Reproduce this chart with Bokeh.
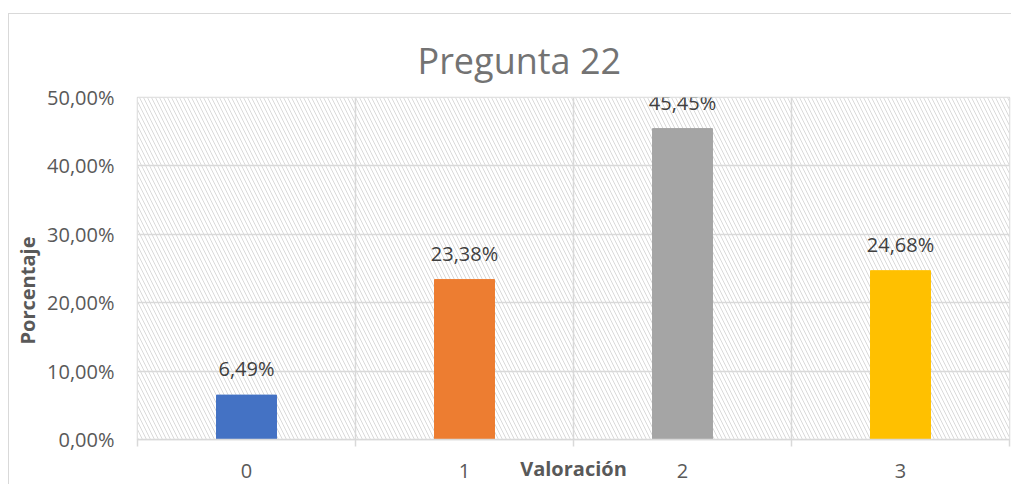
from bokeh.plotting import figure
from bokeh.models import (ColumnDataSource, Range1d, FixedTicker, LabelSet, Title,
                          BoxAnnotation)
from bokeh.embed import file_html
from bokeh.resources import INLINE
from bokeh.core.properties import value

# ---- data ----
categories = [0, 1, 2, 3]
category_labels = ["0", "1", "2", "3"]
percentages = [6.49, 23.38, 45.45, 24.68]
bar_colors = ["#4472C4", "#ED7D31", "#A5A5A5", "#FFC000"]
y_ticks = [0, 10, 20, 30, 40, 50]
y_tick_labels = ["0,00%", "10,00%", "20,00%", "30,00%", "40,00%", "50,00%"]
title_text = "Pregunta 22"
x_title = "Valoración"
y_title = "Porcentaje"

FONT = "Open Sans"
GRID = "#d9d9d9"

labels_text = [("%.2f" % v).replace(".", ",") + "%" for v in percentages]
src = ColumnDataSource(dict(x=categories, top=percentages, color=bar_colors, label=labels_text))

p = figure(width=1011, height=484, x_range=Range1d(-0.5, 3.5), y_range=Range1d(0, 50),
           output_backend="svg", toolbar_location=None,
           min_border_left=137, min_border_right=2, min_border_top=97, min_border_bottom=44)
p.background_fill_color = "white"
p.border_fill_color = None
p.outline_line_color = GRID
p.outline_line_width = 1.5
# outer chart border (top & left edges visible, right/bottom cropped in the reference)
p.styles = {
    "background-color": "white",
    "background-image": ("linear-gradient(#d9d9d9,#d9d9d9), "
                         "linear-gradient(#d9d9d9,#d9d9d9)"),
    "background-position": "8px 13px, 8px 13px",
    "background-size": "calc(100% - 8px) 1px, 1px calc(100% - 13px)",
    "background-repeat": "no-repeat, no-repeat",
    "vertical-align": "top",
    "margin-bottom": "-8px",
}

# title (centered on the full chart area, left of the plot-area centre)
p.title.text = title_text
p.title.align = "left"
p.title.offset = 280
p.title.standoff = 25
p.title.text_font = FONT
p.title.text_font_size = "36px"
p.title.text_font_style = "normal"
p.title.text_color = "#737373"

# hatched plot area
hatch = BoxAnnotation(fill_color="white", fill_alpha=1.0, line_color=None,
                      hatch_pattern="\\", hatch_color="#dadada", hatch_scale=8,
                      hatch_weight=1.0, level="image")
p.add_layout(hatch)

p.vbar(x="x", top="top", width=0.275, color="color", source=src)

# grids
p.ygrid.ticker = FixedTicker(ticks=y_ticks)
p.ygrid.grid_line_color = GRID
p.ygrid.grid_line_width = 1.5
p.xgrid.ticker = FixedTicker(ticks=[c - 0.5 for c in categories] + [categories[-1] + 0.5])
p.xgrid.grid_line_color = GRID
p.xgrid.grid_line_width = 1.5

# x axis
xa = p.xaxis[0]
xa.ticker = FixedTicker(ticks=categories,
                        minor_ticks=[c - 0.5 for c in categories] + [categories[-1] + 0.5])
xa.major_label_overrides = {c: l for c, l in zip(categories, category_labels)}
xa.major_tick_line_color = None
xa.major_tick_out = 0
xa.minor_tick_in = 0
xa.minor_tick_out = 7
xa.minor_tick_line_color = GRID
xa.minor_tick_line_width = 1.5
xa.axis_line_color = GRID
xa.axis_line_width = 1.5
xa.major_label_text_font = FONT
xa.major_label_text_font_size = "20px"
xa.major_label_text_color = "#595959"
xa.major_label_standoff = 17
xa.axis_label = x_title
xa.axis_label_text_font = FONT
xa.axis_label_text_font_size = "20px"
xa.axis_label_text_font_style = "bold"
xa.axis_label_text_color = "#595959"
xa.axis_label_standoff = -26

# y axis
ya = p.yaxis[0]
ya.ticker = FixedTicker(ticks=y_ticks)
ya.major_label_overrides = {t: l for t, l in zip(y_ticks, y_tick_labels)}
ya.axis_line_color = None
ya.major_tick_line_color = None
ya.minor_tick_line_color = None
ya.major_tick_out = 0
ya.major_label_text_font = FONT
ya.major_label_text_font_size = "20px"
ya.major_label_text_color = "#595959"
ya.major_label_standoff = 23

# y axis title as a side title (slightly below the frame centre, as in the reference)
p.add_layout(Title(text=y_title, align="left", offset=95, standoff=7,
                   text_font=FONT, text_font_size="20px", text_font_style="bold",
                   text_color="#595959"), "left")

# data labels
p.add_layout(LabelSet(x="x", y="top", text="label", source=src, y_offset=19,
                      text_align="center", text_baseline="alphabetic",
                      text_font=value(FONT), text_font_size="20px", text_color="#404040"))

open("out.html", "w").write(file_html(p, INLINE))
